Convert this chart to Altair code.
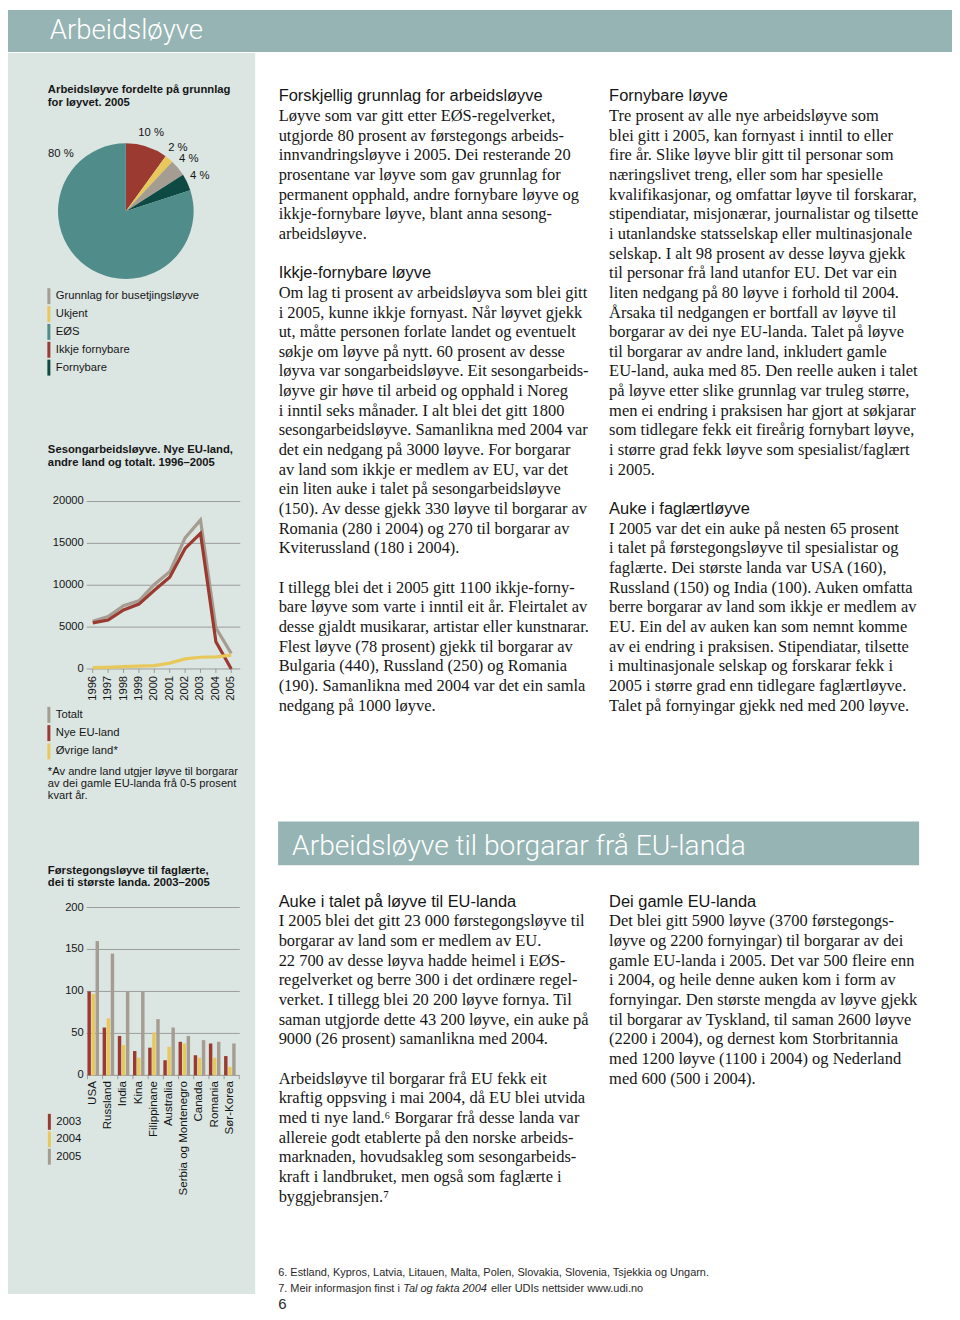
import altair as alt
import pandas as pd

# ---------------- chart values ----------------
pie_categories = ["Ikkje fornybare", "Ukjent", "Grunnlag for busetjingsløyve", "Fornybare", "EØS"]
pie_percent = [10, 2, 4, 4, 80]
pie_legend_order = ["Grunnlag for busetjingsløyve", "Ukjent", "EØS", "Ikkje fornybare", "Fornybare"]

season_years = [1996, 1997, 1998, 1999, 2000, 2001, 2002, 2003, 2004, 2005]
season_series = ["Totalt", "Nye EU-land", "Øvrige land*"]
season_totalt = [5700, 6250, 7550, 8150, 10100, 11600, 15650, 17800, 4900, 1850]
season_nye_eu = [5500, 5850, 7050, 7750, 9400, 10950, 14400, 16200, 3250, 0]
season_ovrige = [150, 200, 280, 330, 400, 700, 1200, 1400, 1450, 1650]
season_ticks = [0, 5000, 10000, 15000, 20000]

skilled_countries = ["USA", "Russland", "India", "Kina", "Filippinane", "Australia",
                     "Serbia og Montenegro", "Canada", "Romania", "Sør-Korea"]
skilled_years = ["2003", "2004", "2005"]
skilled_2003 = [100, 57, 47, 29, 33, 18, 40, 24, 38, 23]
skilled_2004 = [97, 68, 36, 21, 51, 34, 38, 21, 21, 10]
skilled_2005 = [160, 145, 100, 100, 67, 57, 47, 42, 40, 38]
skilled_ticks = [0, 50, 100, 150, 200]

# ---------------- texts ----------------
page_title = "Arbeidsløyve"
section_title = "Arbeidsløyve til borgarar frå EU-landa"
pie_title = ["Arbeidsløyve fordelte på grunnlag", "for løyvet. 2005"]
season_title = ["Sesongarbeidsløyve. Nye EU-land,", "andre land og totalt. 1996–2005"]
season_note = ["*Av andre land utgjer løyve til borgarar",
               "av dei gamle EU-landa frå 0-5 prosent", "kvart år."]
skilled_title = ["Førstegongsløyve til faglærte,", "dei ti største landa. 2003–2005"]

col1_top = [
    "# Forskjellig grunnlag for arbeidsløyve",
    "Løyve som var gitt etter EØS-regelverket,",
    "utgjorde 80 prosent av førstegongs arbeids-",
    "innvandringsløyve i 2005. Dei resterande 20",
    "prosentane var løyve som gav grunnlag for",
    "permanent opphald, andre fornybare løyve og",
    "ikkje-fornybare løyve, blant anna sesong-",
    "arbeidsløyve.",
    "",
    "# Ikkje-fornybare løyve",
    "Om lag ti prosent av arbeidsløyva som blei gitt",
    "i 2005, kunne ikkje fornyast. Når løyvet gjekk",
    "ut, måtte personen forlate landet og eventuelt",
    "søkje om løyve på nytt. 60 prosent av desse",
    "løyva var songarbeidsløyve. Eit sesongarbeids-",
    "løyve gir høve til arbeid og opphald i Noreg",
    "i inntil seks månader. I alt blei det gitt 1800",
    "sesongarbeidsløyve. Samanlikna med 2004 var",
    "det ein nedgang på 3000 løyve. For borgarar",
    "av land som ikkje er medlem av EU, var det",
    "ein liten auke i talet på sesongarbeidsløyve",
    "(150). Av desse gjekk 330 løyve til borgarar av",
    "Romania (280 i 2004) og 270 til borgarar av",
    "Kviterussland (180 i 2004).",
    "",
    "I tillegg blei det i 2005 gitt 1100 ikkje-forny-",
    "bare løyve som varte i inntil eit år. Fleirtalet av",
    "desse gjaldt musikarar, artistar eller kunstnarar.",
    "Flest løyve (78 prosent) gjekk til borgarar av",
    "Bulgaria (440), Russland (250) og Romania",
    "(190). Samanlikna med 2004 var det ein samla",
    "nedgang på 1000 løyve.",
]
col2_top = [
    "# Fornybare løyve",
    "Tre prosent av alle nye arbeidsløyve som",
    "blei gitt i 2005, kan fornyast i inntil to eller",
    "fire år. Slike løyve blir gitt til personar som",
    "næringslivet treng, eller som har spesielle",
    "kvalifikasjonar, og omfattar løyve til forskarar,",
    "stipendiatar, misjonærar, journalistar og tilsette",
    "i utanlandske statsselskap eller multinasjonale",
    "selskap. I alt 98 prosent av desse løyva gjekk",
    "til personar frå land utanfor EU. Det var ein",
    "liten nedgang på 80 løyve i forhold til 2004.",
    "Årsaka til nedgangen er bortfall av løyve til",
    "borgarar av dei nye EU-landa. Talet på løyve",
    "til borgarar av andre land, inkludert gamle",
    "EU-land, auka med 85. Den reelle auken i talet",
    "på løyve etter slike grunnlag var truleg større,",
    "men ei endring i praksisen har gjort at søkjarar",
    "som tidlegare fekk eit fireårig fornybart løyve,",
    "i større grad fekk løyve som spesialist/faglært",
    "i 2005.",
    "",
    "# Auke i faglærtløyve",
    "I 2005 var det ein auke på nesten 65 prosent",
    "i talet på førstegongsløyve til spesialistar og",
    "faglærte. Dei største landa var USA (160),",
    "Russland (150) og India (100). Auken omfatta",
    "berre borgarar av land som ikkje er medlem av",
    "EU. Ein del av auken kan som nemnt komme",
    "av ei endring i praksisen. Stipendiatar, tilsette",
    "i multinasjonale selskap og forskarar fekk i",
    "2005 i større grad enn tidlegare faglærtløyve.",
    "Talet på fornyingar gjekk ned med 200 løyve.",
]
col1_low = [
    "# Auke i talet på løyve til EU-landa",
    "I 2005 blei det gitt 23 000 førstegongsløyve til",
    "borgarar av land som er medlem av EU.",
    "22 700 av desse løyva hadde heimel i EØS-",
    "regelverket og berre 300 i det ordinære regel-",
    "verket. I tillegg blei 20 200 løyve fornya. Til",
    "saman utgjorde dette 43 200 løyve, ein auke på",
    "9000 (26 prosent) samanlikna med 2004.",
    "",
    "Arbeidsløyve til borgarar frå EU fekk eit",
    "kraftig oppsving i mai 2004, då EU blei utvida",
    "med ti nye land.\u2076 Borgarar frå desse landa var",
    "allereie godt etablerte på den norske arbeids-",
    "marknaden, hovudsakleg som sesongarbeids-",
    "kraft i landbruket, men også som faglærte i",
    "byggjebransjen.\u2077",
]
col2_low = [
    "# Dei gamle EU-landa",
    "Det blei gitt 5900 løyve (3700 førstegongs-",
    "løyve og 2200 fornyingar) til borgarar av dei",
    "gamle EU-landa i 2005. Det var 500 fleire enn",
    "i 2004, og heile denne auken kom i form av",
    "fornyingar. Den største mengda av løyve gjekk",
    "til borgarar av Tyskland, til saman 2600 løyve",
    "(2200 i 2004), og dernest kom Storbritannia",
    "med 1200 løyve (1100 i 2004) og Nederland",
    "med 600 (500 i 2004).",
]
footnote_6 = "6. Estland, Kypros, Latvia, Litauen, Malta, Polen, Slovakia, Slovenia, Tsjekkia og Ungarn."
footnote_7 = ["7. Meir informasjon finst i", "Tal og fakta 2004", "eller UDIs nettsider www.udi.no"]
page_number = "6"

# ---------------- style ----------------
SANS = "Liberation Sans"
SERIF = "Liberation Serif"
LIGHT = "Roboto"
INK = "#161616"
RED = "#9a3a30"
YEL = "#e8c85b"
GRY = "#a69d92"
DKG = "#0e4a43"
TEAL = "#4f8c8a"
BAND = "#95b4b3"
SIDE = "#dbe5e2"
GRID = "#8c8c8c"
LH = 19.72
pie_colors = {"Ikkje fornybare": RED, "Ukjent": YEL, "Grunnlag for busetjingsløyve": GRY,
              "Fornybare": DKG, "EØS": TEAL}

OX, OY = 8, 8
def px(v):
    return v - OX
def py(v):
    return v - OY

ONE = pd.DataFrame({"k": [0]})


def rect(x0, y0, x1, y1, color):
    return alt.Chart(ONE).mark_rect(color=color).encode(
        x=alt.value(px(x0)), x2=alt.value(px(x1)), y=alt.value(py(y0)), y2=alt.value(py(y1)))


def text_block(lines, x, y, size, font=SANS, weight="normal", color=INK, lh=None,
               style="normal", align="left"):
    return alt.Chart(ONE).mark_text(
        text=lines, font=font, fontSize=size, fontWeight=weight, fontStyle=style,
        color=color, lineHeight=lh if lh else size * 1.2, align=align, baseline="alphabetic"
    ).encode(x=alt.value(px(x)), y=alt.value(py(y)))


def column(lines, x, y):
    n = len(lines)
    df = pd.DataFrame({
        "i": list(range(n)),
        "head": [l[2:] if l.startswith("# ") else "" for l in lines],
        "body": ["" if l.startswith("# ") else l for l in lines],
    })
    ysc = alt.Scale(domain=[0, n - 1], range=[py(y), py(y + (n - 1) * LH)], nice=False, zero=False)
    base = alt.Chart(df).encode(x=alt.value(px(x)), y=alt.Y("i:Q", scale=ysc, axis=None))
    heads = base.transform_filter("datum.head != ''").mark_text(
        font=SANS, fontSize=16.5, color=INK, align="left", baseline="alphabetic").encode(text="head:N")
    body = base.transform_filter("datum.body != ''").mark_text(
        font=SERIF, fontSize=16.5, color=INK, align="left", baseline="alphabetic").encode(text="body:N")
    return alt.layer(heads, body)


def legend(names, colors, y0, y1, xbar=49, xtext=56):
    df = pd.DataFrame({"name": names})
    ysc = alt.Scale(type="point", domain=names, range=[py(y0), py(y1)], padding=0)
    base = alt.Chart(df).encode(y=alt.Y("name:N", scale=ysc, axis=None))
    sw = base.mark_tick(orient="vertical", thickness=3, size=16, opacity=1).encode(
        x=alt.value(px(xbar)),
        color=alt.Color("name:N", scale=alt.Scale(domain=names, range=colors), legend=None))
    tx = base.mark_text(align="left", baseline="middle", font=SANS, fontSize=11.3, color=INK).encode(
        x=alt.value(px(xtext)), text="name:N")
    return alt.layer(sw, tx)


# ---------------- pie ----------------
pie_df = pd.DataFrame({
    "cat": pie_categories, "pct": pie_percent, "ord": list(range(len(pie_categories))),
    "label": [f"{p} %" if c != "EØS" else "" for c, p in zip(pie_categories, pie_percent)],
})
PCX, PCY = 126.2, 209.7
pie_base = alt.Chart(pie_df).encode(
    theta=alt.Theta("pct:Q", stack=True), order=alt.Order("ord:Q"),
    x=alt.value(px(PCX)), y=alt.value(py(PCY)))
pie_arcs = pie_base.mark_arc(outerRadius=68).encode(
    color=alt.Color("cat:N", scale=alt.Scale(domain=pie_categories,
                                             range=[pie_colors[c] for c in pie_categories]),
                    legend=None))
pie_labels = pie_base.mark_text(radius=82, font=SANS, fontSize=11.3, color=INK).encode(text="label:N")
pie = alt.layer(pie_arcs, pie_labels)
eos_label = text_block([f"{pie_percent[pie_categories.index('EØS')]} %"], 61, 155, 11.3, align="center")

# ---------------- seasonal lines ----------------
season_df = pd.DataFrame({
    "year": season_years * 3,
    "series": [s for s in season_series for _ in season_years],
    "value": season_totalt + season_nye_eu + season_ovrige,
})
sx = alt.Scale(domain=[1996, 2005], range=[px(93), px(232)], nice=False, zero=False)
sy = alt.Scale(domain=[0, 20000], range=[py(669), py(501)], nice=False)
s_ticks = pd.DataFrame({"v": season_ticks})
s_years = pd.DataFrame({"year": season_years})
s_grid = alt.Chart(s_ticks).mark_rule(color=GRID, strokeWidth=0.8).encode(
    y=alt.Y("v:Q", scale=sy, axis=None), x=alt.value(px(87)), x2=alt.value(px(241)))
s_ylab = alt.Chart(s_ticks).mark_text(align="right", baseline="middle", font=SANS, fontSize=11.2,
                                      color=INK).encode(
    y=alt.Y("v:Q", scale=sy, axis=None), x=alt.value(px(84)), text=alt.Text("v:Q", format="d"))
s_xtick = alt.Chart(s_years).mark_rule(color=GRID, strokeWidth=0.8).encode(
    x=alt.X("year:Q", scale=sx, axis=None), y=alt.value(py(669)), y2=alt.value(py(673)))
s_xlab = alt.Chart(s_years).mark_text(angle=270, align="right", baseline="middle", font=SANS,
                                      fontSize=11.2, color=INK).encode(
    x=alt.X("year:Q", scale=sx, axis=None), y=alt.value(py(676)),
    text=alt.Text("year:Q", format="d"))
s_color = alt.Color("series:N", scale=alt.Scale(domain=season_series, range=[GRY, RED, YEL]),
                    legend=None)
s_lines = [
    alt.Chart(season_df).transform_filter(alt.datum.series == s).mark_line(strokeWidth=3.2).encode(
        x=alt.X("year:Q", scale=sx, axis=None), y=alt.Y("value:Q", scale=sy, axis=None), color=s_color)
    for s in season_series
]
season_chart = alt.layer(s_grid, s_xtick, s_ylab, s_xlab, *s_lines)

# ---------------- skilled bars ----------------
skilled_df = pd.DataFrame({
    "country": skilled_countries * 3,
    "year": [y for y in skilled_years for _ in skilled_countries],
    "value": skilled_2003 + skilled_2004 + skilled_2005,
})
bx = alt.Scale(domain=skilled_countries, range=[px(87.7), px(240)], paddingInner=0, paddingOuter=0)
by = alt.Scale(domain=[0, 200], range=[py(1076.7), py(908.3)], nice=False)
b_ticks = pd.DataFrame({"v": skilled_ticks})
b_cty = pd.DataFrame({"country": skilled_countries})
b_last = pd.DataFrame({"country": skilled_countries[-1:]})
b_grid = alt.Chart(b_ticks).mark_rule(color=GRID, strokeWidth=0.8).encode(
    y=alt.Y("v:Q", scale=by, axis=None), x=alt.value(px(87)), x2=alt.value(px(240.5)))
b_ylab = alt.Chart(b_ticks).mark_text(align="right", baseline="middle", font=SANS, fontSize=11.2,
                                      color=INK).encode(
    y=alt.Y("v:Q", scale=by, axis=None), x=alt.value(px(84)), text=alt.Text("v:Q", format="d"))
b_bars = alt.Chart(skilled_df).mark_bar().encode(
    x=alt.X("country:N", scale=bx, axis=None, sort=skilled_countries),
    xOffset=alt.XOffset("year:N", scale=alt.Scale(domain=skilled_years, paddingInner=0.15,
                                                   paddingOuter=0.45, align=0)),
    y=alt.Y("value:Q", scale=by, axis=None),
    color=alt.Color("year:N", scale=alt.Scale(domain=skilled_years, range=[RED, YEL, GRY]), legend=None))
b_xtick = alt.Chart(b_cty).mark_rule(color=GRID, strokeWidth=0.8).encode(
    x=alt.X("country:N", scale=bx, axis=None, bandPosition=0),
    y=alt.value(py(1076.7)), y2=alt.value(py(1080.5)))
b_xtick_end = alt.Chart(b_last).mark_rule(color=GRID, strokeWidth=0.8).encode(
    x=alt.X("country:N", scale=bx, axis=None, bandPosition=1),
    y=alt.value(py(1076.7)), y2=alt.value(py(1080.5)))
b_xlab = alt.Chart(b_cty).mark_text(angle=270, align="right", baseline="middle", font=SANS,
                                    fontSize=11.6, color=INK).encode(
    x=alt.X("country:N", scale=bx, axis=None, bandPosition=0.37),
    y=alt.value(py(1082.5)), text="country:N")
skilled_chart = alt.layer(b_grid, b_bars, b_xtick, b_xtick_end, b_ylab, b_xlab)

# ---------------- page assembly ----------------
layers = [
    rect(8, 8, 955, 50, BAND),
    rect(8, 51, 256, 1296, SIDE),
    rect(279, 822, 922, 866, BAND),
    text_block([page_title], 50, 37.5, 27.6, font=LIGHT, weight=300, color="white"),
    text_block([section_title], 293, 855.5, 28.2, font=LIGHT, weight=300, color="white"),
    text_block(pie_title, 48, 91.5, 11.3, weight="bold", lh=12.7),
    pie, eos_label,
    legend(pie_legend_order, [pie_colors[c] for c in pie_legend_order], 295, 366.7),
    text_block(season_title, 48, 452.5, 11.3, weight="bold", lh=12.7),
    season_chart,
    legend(season_series, [GRY, RED, YEL], 715, 751.7),
    text_block(season_note, 48, 775.5, 11.2, lh=11.8),
    text_block(skilled_title, 48, 874.5, 11.3, weight="bold", lh=12.7),
    skilled_chart,
    legend(skilled_years, [RED, YEL, GRY], 1123.3, 1158.3, xbar=49.5, xtext=56.5),
    column(col1_top, 279.5, 99.5),
    column(col2_top, 611, 99.5),
    column(col1_low, 279.5, 907.5),
    column(col2_low, 611, 907.5),
    text_block([footnote_6], 279, 1278, 11, color="#2a2a2a"),
    text_block([footnote_7[0]], 279, 1294, 11, color="#2a2a2a"),
    text_block([footnote_7[1]], 404.5, 1294, 11, color="#2a2a2a", style="italic"),
    text_block([footnote_7[2]], 492.5, 1294, 11, color="#2a2a2a"),
    text_block([page_number], 279, 1311, 15, color="#2a2a2a"),
]

chart = alt.layer(*layers).resolve_scale(
    x="independent", y="independent", color="independent"
).properties(
    width=947, height=1304, autosize=alt.AutoSizeParams(type="none"), padding=0
).configure_view(stroke=None)

chart.save("out.html", embed_options={"renderer": "svg", "actions": False})
